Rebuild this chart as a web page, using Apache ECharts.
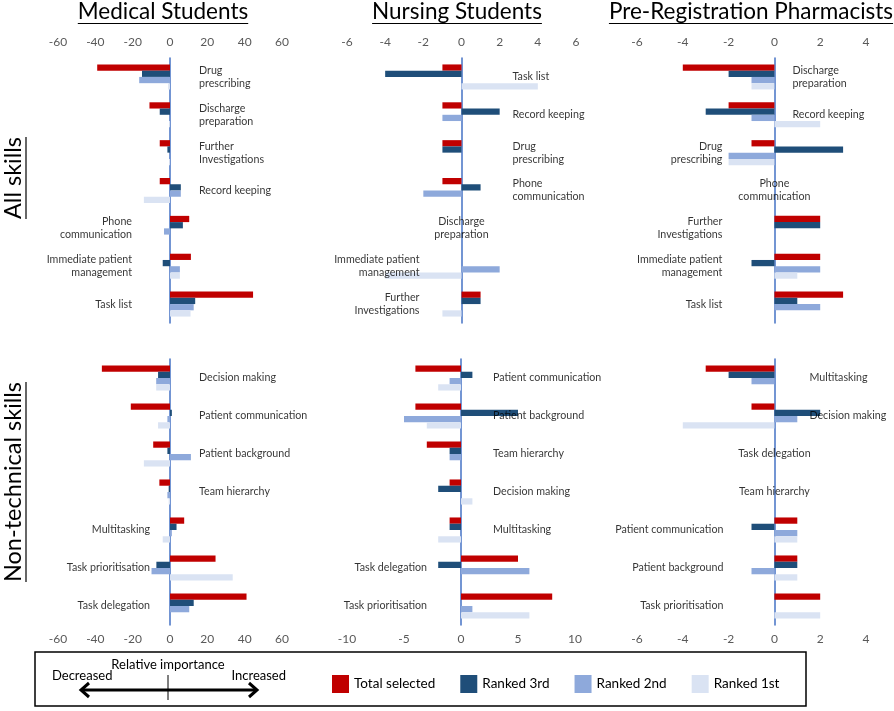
<!DOCTYPE html>
<html>
<head>
<meta charset="utf-8">
<script src="https://cdn.jsdelivr.net/npm/echarts@6/dist/echarts.min.js"></script>
<style>
  html, body { margin: 0; padding: 0; background: #fff; }
  #chart { width: 894px; height: 711px; }
</style>
</head>
<body>
<div id="chart"></div>
<script>
// ---------------- DATA ----------------
const seriesNames = ['Total selected', 'Ranked 3rd', 'Ranked 2nd', 'Ranked 1st'];
const panelTitles = ['Medical Students', 'Nursing Students', 'Pre-Registration Pharmacists'];
const rowTitles = ['All skills', 'Non-technical skills'];

// Medical students – all skills
const medAllCats = ['Drug\nprescribing', 'Discharge\npreparation', 'Further\nInvestigations', 'Record keeping', 'Phone\ncommunication', 'Immediate patient\nmanagement', 'Task list'];
const medAllTotal = [-39, -11, -5.5, -5.5, 10.3, 11.2, 44.5];
const medAllR3 = [-15, -5.5, -1.4, 5.8, 6.9, -3.9, 13.5];
const medAllR2 = [-16.5, 0, 0, 5.8, -3.2, 5.3, 12.7];
const medAllR1 = [-1, -0.5, -0.5, -14, 0, 5.3, 11];

// Nursing students – all skills
const nurAllCats = ['Task list', 'Record keeping', 'Drug\nprescribing', 'Phone\ncommunication', 'Discharge\npreparation', 'Immediate patient\nmanagement', 'Further\nInvestigations'];
const nurAllTotal = [-1, -1, -1, -1, 0, 0, 1];
const nurAllR3 = [-4, 2, -1, 1, 0, 0, 1];
const nurAllR2 = [0, -1, 0, -2, 0, 2, 0];
const nurAllR1 = [4, 0, 0, 0, 0, -4, -1];

// Pre-registration pharmacists – all skills
const phaAllCats = ['Discharge\npreparation', 'Record keeping', 'Drug\nprescribing', 'Phone\ncommunication', 'Further\nInvestigations', 'Immediate patient\nmanagement', 'Task list'];
const phaAllTotal = [-4, -2, -1, 0, 2, 2, 3];
const phaAllR3 = [-2, -3, 3, 0, 2, -1, 1];
const phaAllR2 = [-1, -1, -2, 0, 0, 2, 2];
const phaAllR1 = [-1, 2, -2, 0, 0, 1, 0];

// Medical students – non-technical skills
const medNtCats = ['Decision making', 'Patient communication', 'Patient background', 'Team hierarchy', 'Multitasking', 'Task prioritisation', 'Task delegation'];
const medNtTotal = [-36.5, -21, -9, -5.7, 7.6, 24.4, 41];
const medNtR3 = [-6.4, 1, -1.4, -0.7, 3.5, -7.3, 12.7];
const medNtR2 = [-7.4, -1.4, 11.2, -1.4, 1, -9.9, 10.3];
const medNtR1 = [-7.4, -6.4, -14, -0.7, -3.9, 33.6, 0];

// Nursing students – non-technical skills
const nurNtCats = ['Patient communication', 'Patient background', 'Team hierarchy', 'Decision making', 'Multitasking', 'Task delegation', 'Task prioritisation'];
const nurNtTotal = [-4, -4, -3, -1, -1, 5, 8];
const nurNtR3 = [1, 5, -1, -2, -1, -2, 0];
const nurNtR2 = [-1, -5, -1, 0, 0, 6, 1];
const nurNtR1 = [-2, -3, 0, 1, -2, 0, 6];

// Pre-registration pharmacists – non-technical skills
const phaNtCats = ['Multitasking', 'Decision making', 'Task delegation', 'Team hierarchy', 'Patient communication', 'Patient background', 'Task prioritisation'];
const phaNtTotal = [-3, -1, 0, 0, 1, 1, 2];
const phaNtR3 = [-2, 2, 0, 0, -1, 1, 0];
const phaNtR2 = [-1, 1, 0, 0, 1, -1, 0];
const phaNtR1 = [0, -4, 0, 0, 1, 1, 2];

// Tick labels
const medTicks = [-60, -40, -20, 0, 20, 40, 60];
const nurAllTicks = [-6, -4, -2, 0, 2, 4, 6];
const phaTicks = [-6, -4, -2, 0, 2, 4];
const nurNtTicks = [-10, -5, 0, 5, 10];

// Legend annotation texts
const legendAxisTexts = { title: 'Relative importance', left: 'Decreased', right: 'Increased' };

// ---------------- LAYOUT / STYLE ----------------
const colors = ['#C00000', '#1F4E79', '#8EA9DB', '#DAE3F3'];
const FONT = 'Lato, "Open Sans", sans-serif';

const panels = [
  { cats: medAllCats, vals: [medAllTotal, medAllR3, medAllR2, medAllR1], ticks: medTicks,
    left: 58, width: 224, top: 58, height: 265, pos: 'top',
    sides: ['R','R','R','R','L','L','L'], rOff: 29, lOff: 38 },
  { cats: nurAllCats, vals: [nurAllTotal, nurAllR3, nurAllR2, nurAllR1], ticks: nurAllTicks,
    left: 347, width: 229, top: 58, height: 265, pos: 'top',
    sides: ['R','R','R','R','C','L','L'], rOff: 51, lOff: 42 },
  { cats: phaAllCats, vals: [phaAllTotal, phaAllR3, phaAllR2, phaAllR1], ticks: phaTicks,
    left: 637, width: 229, top: 58, height: 265, pos: 'top',
    sides: ['R','R','L','C','L','L','L'], rOff: 18, lOff: 52 },
  { cats: medNtCats, vals: [medNtTotal, medNtR3, medNtR2, medNtR1], ticks: medTicks,
    left: 58, width: 224, top: 359, height: 266, pos: 'bottom',
    sides: ['R','R','R','R','L','L','L'], rOff: 29, lOff: 20 },
  { cats: nurNtCats, vals: [nurNtTotal, nurNtR3, nurNtR2, nurNtR1], ticks: nurNtTicks,
    left: 347, width: 228, top: 359, height: 266, pos: 'bottom',
    sides: ['R','R','R','R','R','L','L'], rOff: 32, lOff: 34 },
  { cats: phaNtCats, vals: [phaNtTotal, phaNtR3, phaNtR2, phaNtR1], ticks: phaTicks,
    left: 637, width: 229, top: 359, height: 266, pos: 'bottom',
    sides: ['R','R','C','C','L','L','L'], rOff: 35, lOff: 51 }
];

const grids = [], xAxes = [], yAxes = [], series = [];
panels.forEach((p, i) => {
  grids.push({ left: p.left, width: p.width, top: p.top, height: p.height, containLabel: false });
  const t = p.ticks;
  xAxes.push({
    type: 'value', gridIndex: i, position: p.pos,
    min: t[0], max: t[t.length - 1], interval: t[1] - t[0],
    axisLine: { show: false }, axisTick: { show: false }, splitLine: { show: false },
    axisLabel: { color: '#595959', fontSize: 12, fontFamily: FONT, margin: p.pos === 'top' ? 10 : 8 }
  });
  yAxes.push({
    type: 'category', gridIndex: i, data: p.cats, inverse: true,
    axisLine: { show: true, onZero: true, lineStyle: { color: '#4472C4', width: 1.5 } },
    axisTick: { show: false }, axisLabel: { show: false }, splitLine: { show: false }
  });
  p.vals.forEach((arr, k) => {
    series.push({
      type: 'bar', name: seriesNames[k], xAxisIndex: i, yAxisIndex: i,
      data: arr, barGap: '0%', barCategoryGap: '34%',
      itemStyle: { color: colors[k] }, silent: true, z: 2
    });
  });
  series.push({
    type: 'scatter', name: 'labels' + i, xAxisIndex: i, yAxisIndex: i, silent: true, z: 5,
    symbol: 'circle', symbolSize: 2, itemStyle: { color: 'rgba(255,255,255,0)' },
    data: p.cats.map((c, j) => {
      const s = p.sides[j];
      return {
        value: [0, j],
        label: {
          show: true, formatter: c,
          position: s === 'R' ? 'right' : (s === 'L' ? 'left' : 'inside'),
          distance: s === 'R' ? p.rOff - 1 : (s === 'L' ? p.lOff - 1 : 0),
          color: '#000', fontSize: 10.7, fontFamily: FONT, lineHeight: 13
        }
      };
    })
  });
});

// ---------- Graphic: titles, row titles, legend box ----------
const ctx = document.createElement('canvas').getContext('2d');
function textW(txt, size) { ctx.font = size + 'px ' + FONT; return ctx.measureText(txt).width; }

const graphics = [];
const titleX = [163, 457, 751];
const TITLE_FS = 22.5;
panelTitles.forEach((t, i) => {
  const w = textW(t, TITLE_FS);
  graphics.push({ type: 'text', x: titleX[i], y: 12, style: { text: t, font: TITLE_FS + 'px ' + FONT, fill: '#000', textAlign: 'center', textVerticalAlign: 'middle' } });
  graphics.push({ type: 'line', shape: { x1: titleX[i] - w / 2, y1: 23.5, x2: titleX[i] + w / 2, y2: 23.5 }, style: { stroke: '#000', lineWidth: 1.2 } });
});
const rowY = [178, 482];
const ROW_FS = 23.5;
rowTitles.forEach((t, i) => {
  const w = textW(t, ROW_FS);
  graphics.push({ type: 'text', x: 13, y: rowY[i], rotation: Math.PI / 2, style: { text: t, font: ROW_FS + 'px ' + FONT, fill: '#000', textAlign: 'center', textVerticalAlign: 'middle' } });
  graphics.push({ type: 'line', shape: { x1: 26, y1: rowY[i] - w / 2, x2: 26, y2: rowY[i] + w / 2 }, style: { stroke: '#000', lineWidth: 1.2 } });
});
// Legend box
graphics.push({ type: 'rect', shape: { x: 35, y: 652, width: 771, height: 54 }, style: { fill: 'none', stroke: '#000', lineWidth: 1.5 } });
graphics.push({ type: 'text', x: 168, y: 665, style: { text: legendAxisTexts.title, font: '13px ' + FONT, fill: '#000', textAlign: 'center', textVerticalAlign: 'middle' } });
graphics.push({ type: 'text', x: 52, y: 676, style: { text: legendAxisTexts.left, font: '13px ' + FONT, fill: '#000', textAlign: 'left', textVerticalAlign: 'middle' } });
graphics.push({ type: 'text', x: 286, y: 676, style: { text: legendAxisTexts.right, font: '13px ' + FONT, fill: '#000', textAlign: 'right', textVerticalAlign: 'middle' } });
graphics.push({ type: 'line', shape: { x1: 82, y1: 690, x2: 256, y2: 690 }, style: { stroke: '#000', lineWidth: 3 } });
graphics.push({ type: 'polyline', shape: { points: [[89, 683], [81, 690], [89, 697]] }, style: { stroke: '#000', lineWidth: 3, fill: 'none' } });
graphics.push({ type: 'polyline', shape: { points: [[249, 683], [257, 690], [249, 697]] }, style: { stroke: '#000', lineWidth: 3, fill: 'none' } });
graphics.push({ type: 'line', shape: { x1: 168, y1: 675, x2: 168, y2: 700 }, style: { stroke: '#000', lineWidth: 1 } });

const chart = echarts.init(document.getElementById('chart'), null, { renderer: 'canvas' });
chart.setOption({
  animation: false,
  backgroundColor: '#fff',
  grid: grids,
  xAxis: xAxes,
  yAxis: yAxes,
  series: series,
  legend: {
    data: seriesNames, left: 327, top: 670, orient: 'horizontal',
    icon: 'rect', itemWidth: 17, itemHeight: 18, itemGap: 25,
    textStyle: { fontSize: 13.5, fontFamily: FONT, color: '#000' },
    selectedMode: false
  },
  graphic: graphics
});
</script>
</body>
</html>
